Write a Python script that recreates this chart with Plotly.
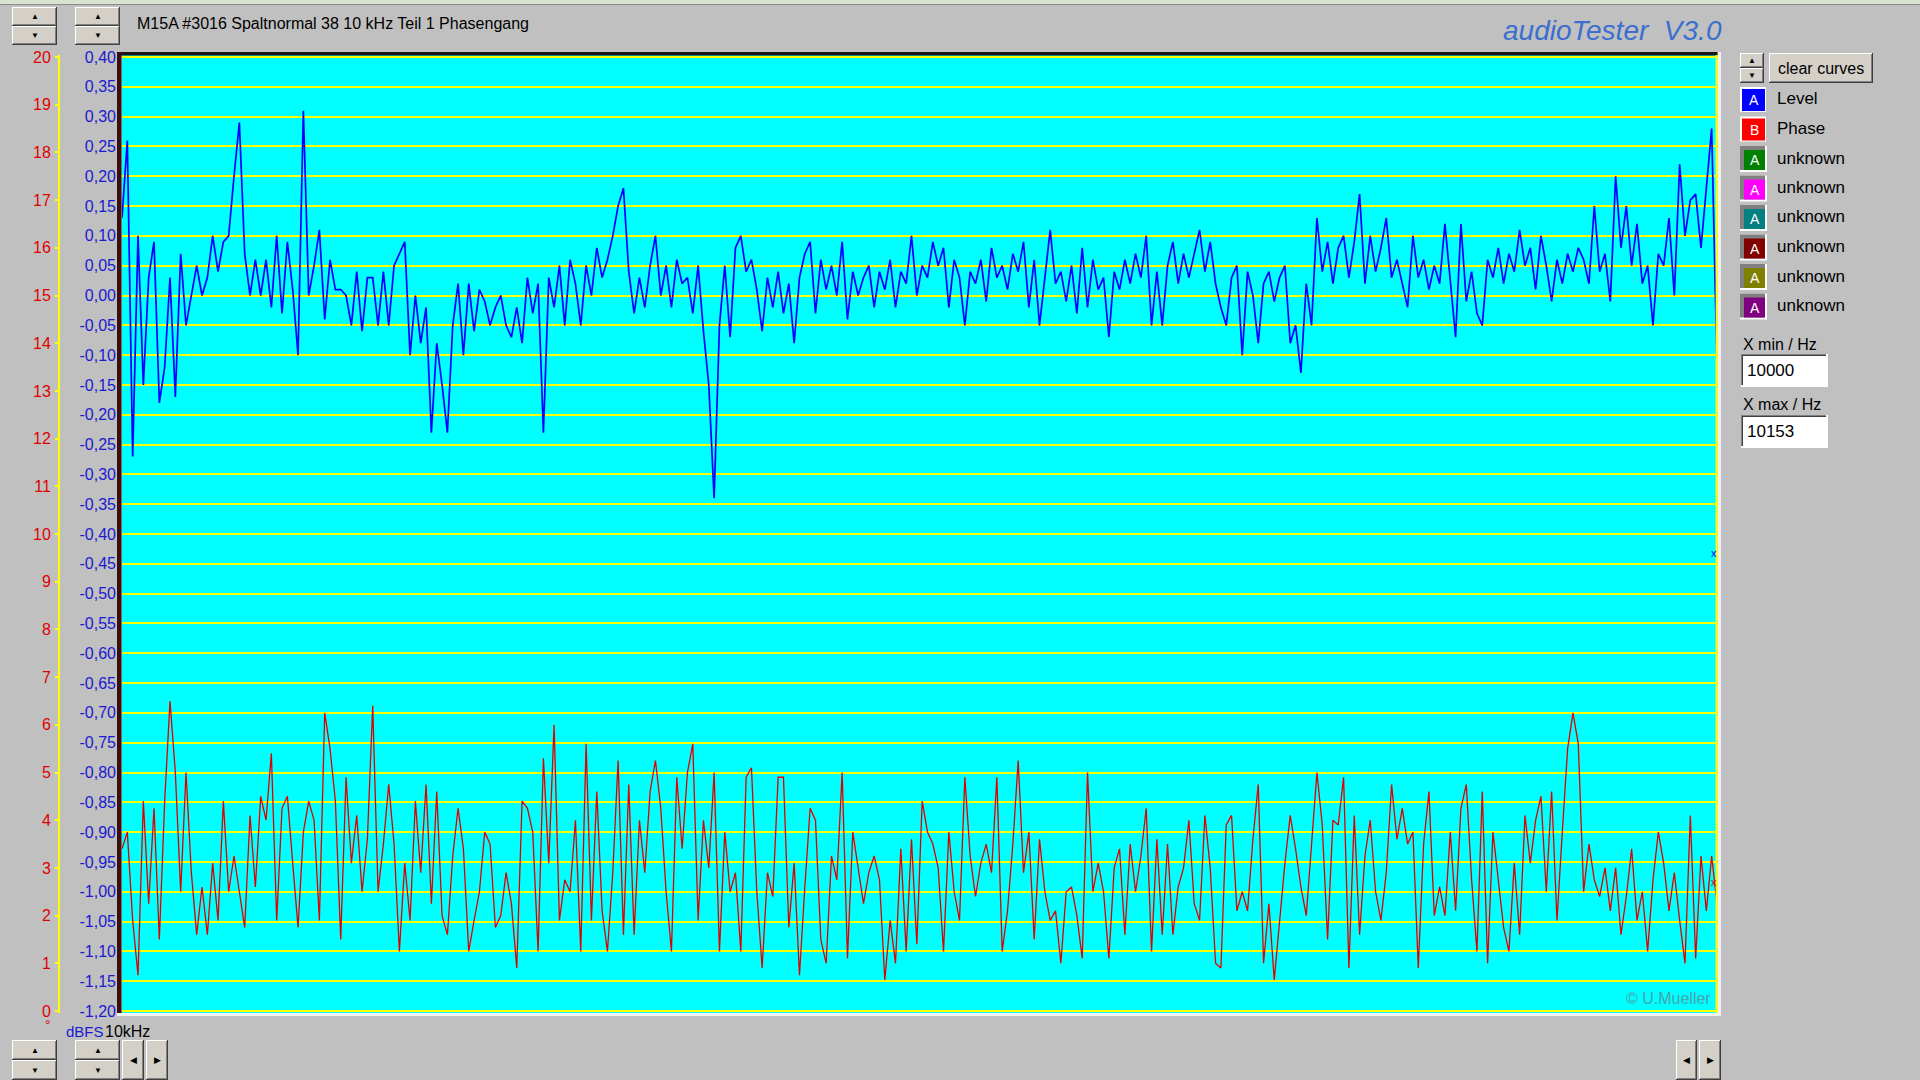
import plotly.graph_objects as go

# ---------------- data ----------------
TITLE = "M15A #3016 Spaltnormal 38 10 kHz Teil 1 Phasengang"
X_MIN_HZ = 10000
X_MAX_HZ = 10153
X_START_LABEL = "10kHz"

LEVEL_TICKS = ["0,40", "0,35", "0,30", "0,25", "0,20", "0,15", "0,10", "0,05", "0,00",
               "-0,05", "-0,10", "-0,15", "-0,20", "-0,25", "-0,30", "-0,35", "-0,40",
               "-0,45", "-0,50", "-0,55", "-0,60", "-0,65", "-0,70", "-0,75", "-0,80",
               "-0,85", "-0,90", "-0,95", "-1,00", "-1,05", "-1,10", "-1,15", "-1,20"]
PHASE_TICKS = ["0", "1", "2", "3", "4", "5", "6", "7", "8", "9", "10",
               "11", "12", "13", "14", "15", "16", "17", "18", "19", "20"]

LEGEND_LABELS = ["Level", "Phase", "unknown", "unknown", "unknown", "unknown", "unknown", "unknown"]
LEGEND_LETTERS = ["A", "B", "A", "A", "A", "A", "A", "A"]
LEGEND_COLORS = ["#0000ff", "#ff0000", "#008000", "#ff00ff", "#008080", "#800000", "#808000", "#800080"]

# Level (dBFS), left to right
LEVEL_DBFS = [
    0.13, 0.26, -0.27, 0.10, -0.15, 0.03, 0.09, -0.18, -0.12, 0.03, -0.17, 0.07, -0.05, 0.00, 0.05, 0.00, 0.03, 0.10, 0.04, 0.09,
    0.10, 0.20, 0.29, 0.07, 0.00, 0.06, 0.00, 0.06, -0.02, 0.10, -0.03, 0.09, 0.01, -0.10, 0.31, 0.00, 0.05, 0.11, -0.04, 0.06,
    0.01, 0.01, 0.00, -0.05, 0.04, -0.06, 0.03, 0.03, -0.05, 0.04, -0.05, 0.05, 0.07, 0.09, -0.10, 0.00, -0.08, -0.02, -0.23, -0.08,
    -0.15, -0.23, -0.05, 0.02, -0.10, 0.02, -0.06, 0.01, -0.01, -0.05, -0.02, 0.00, -0.05, -0.07, -0.02, -0.08, 0.03, -0.03, 0.02, -0.23,
    0.03, -0.02, 0.05, -0.05, 0.06, 0.02, -0.05, 0.05, 0.00, 0.08, 0.03, 0.06, 0.10, 0.15, 0.18, 0.04, -0.03, 0.03, -0.02, 0.05,
    0.10, 0.00, 0.05, -0.02, 0.06, 0.02, 0.03, -0.03, 0.05, -0.06, -0.15, -0.34, -0.05, 0.05, -0.07, 0.08, 0.10, 0.04, 0.06, 0.01,
    -0.06, 0.03, -0.02, 0.04, -0.03, 0.02, -0.08, 0.03, 0.07, 0.09, -0.03, 0.06, 0.01, 0.05, 0.00, 0.09, -0.04, 0.04, 0.00, 0.03,
    0.05, -0.02, 0.04, 0.01, 0.06, -0.02, 0.04, 0.02, 0.10, 0.00, 0.05, 0.03, 0.09, 0.05, 0.08, -0.02, 0.06, 0.03, -0.05, 0.04,
    0.02, 0.06, -0.01, 0.08, 0.03, 0.05, 0.01, 0.07, 0.04, 0.09, -0.02, 0.06, -0.05, 0.03, 0.11, 0.02, 0.04, -0.01, 0.05, -0.03,
    0.08, -0.02, 0.06, 0.01, 0.03, -0.07, 0.04, 0.01, 0.06, 0.02, 0.07, 0.03, 0.10, -0.05, 0.04, -0.05, 0.05, 0.09, 0.02, 0.07,
    0.03, 0.07, 0.11, 0.04, 0.09, 0.02, -0.02, -0.05, 0.03, 0.05, -0.10, 0.04, 0.00, -0.08, 0.02, 0.04, -0.01, 0.03, 0.05, -0.08,
    -0.05, -0.13, 0.02, -0.05, 0.13, 0.04, 0.09, 0.02, 0.08, 0.10, 0.03, 0.09, 0.17, 0.02, 0.10, 0.04, 0.08, 0.13, 0.03, 0.06,
    0.02, -0.02, 0.10, 0.03, 0.06, 0.01, 0.05, 0.02, 0.12, 0.03, -0.07, 0.12, -0.01, 0.04, -0.03, -0.05, 0.06, 0.03, 0.08, 0.02,
    0.07, 0.04, 0.11, 0.05, 0.08, 0.01, 0.10, 0.05, -0.01, 0.06, 0.02, 0.07, 0.04, 0.08, 0.06, 0.02, 0.15, 0.04, 0.07, -0.01,
    0.20, 0.08, 0.15, 0.05, 0.12, 0.02, 0.05, -0.05, 0.07, 0.05, 0.13, 0.00, 0.22, 0.10, 0.16, 0.17, 0.08, 0.18, 0.28, -0.12,
]

# Phase (degrees, red axis 0..20), left to right
PHASE_DEG = [
    3.4, 3.75, 1.9, 0.75, 4.4, 2.25, 4.25, 1.5, 4.4, 6.5, 5.0, 2.5, 5.0, 2.9, 1.6, 2.6, 1.6, 3.1, 1.9, 4.4,
    2.5, 3.25, 2.5, 1.75, 4.1, 2.6, 4.5, 4.0, 5.4, 1.9, 4.25, 4.5, 3.1, 1.75, 3.75, 4.4, 4.0, 1.9, 6.25, 5.5,
    4.4, 1.5, 4.9, 3.1, 4.1, 2.5, 3.6, 6.4, 2.5, 3.5, 4.75, 3.5, 1.25, 3.1, 1.9, 4.4, 2.9, 4.75, 2.25, 4.6,
    2.0, 1.6, 3.25, 4.25, 3.4, 1.25, 1.9, 2.5, 3.75, 3.5, 1.75, 2.0, 2.9, 2.25, 0.9, 4.4, 4.25, 3.75, 1.25, 5.3,
    3.1, 6.0, 1.9, 2.75, 2.5, 4.0, 1.25, 5.6, 1.9, 4.6, 2.1, 1.25, 2.9, 5.25, 1.6, 4.75, 1.6, 4.0, 2.9, 4.6,
    5.25, 4.25, 2.5, 1.25, 4.9, 3.4, 5.0, 5.6, 1.9, 4.0, 3.0, 5.0, 1.25, 3.75, 2.5, 2.9, 1.25, 4.9, 5.1, 2.5,
    0.9, 2.9, 2.4, 4.9, 4.9, 1.75, 3.1, 0.75, 2.6, 4.25, 4.0, 1.5, 1.0, 3.25, 2.75, 5.0, 1.1, 3.75, 3.0, 2.25,
    2.9, 3.25, 2.75, 0.65, 1.9, 1.0, 3.4, 1.25, 3.6, 1.4, 4.4, 3.75, 3.5, 3.0, 1.25, 3.75, 2.5, 1.9, 4.9, 3.25,
    2.4, 3.1, 3.5, 2.9, 4.9, 1.25, 2.1, 3.5, 5.25, 2.9, 3.75, 1.5, 3.6, 2.5, 1.9, 2.1, 1.0, 2.5, 2.6, 2.0,
    1.1, 5.0, 2.5, 3.1, 2.5, 1.1, 3.0, 3.4, 1.6, 3.5, 2.5, 3.25, 4.25, 1.25, 3.6, 1.6, 3.5, 1.6, 2.6, 3.0,
    4.0, 2.25, 1.9, 4.1, 3.0, 1.0, 0.9, 3.9, 4.1, 2.1, 2.5, 2.1, 3.6, 4.75, 1.0, 2.25, 0.65, 1.9, 3.1, 4.1,
    3.4, 2.6, 2.0, 3.5, 5.0, 3.9, 1.5, 4.0, 3.9, 4.9, 0.9, 4.1, 1.6, 3.25, 4.0, 2.5, 1.9, 2.9, 4.75, 3.6,
    4.25, 3.5, 3.75, 0.9, 3.5, 4.6, 2.0, 2.6, 2.0, 3.75, 2.1, 4.25, 4.75, 2.75, 1.25, 4.6, 1.0, 3.75, 2.75, 1.75,
    1.25, 3.1, 1.6, 4.1, 3.1, 4.0, 4.5, 2.5, 4.6, 1.9, 3.75, 5.5, 6.25, 5.6, 2.5, 3.5, 2.75, 2.4, 3.0, 2.1,
    3.0, 1.6, 2.4, 3.4, 1.9, 2.5, 1.25, 2.75, 3.75, 3.1, 2.1, 2.9, 1.9, 1.0, 4.1, 1.1, 3.25, 2.1, 3.25, 2.25,
]


def freq_grid(n):
    step = (X_MAX_HZ - X_MIN_HZ) / (n - 1)
    return [X_MIN_HZ + i * step for i in range(n)]


# ---------------- layout geometry (pixels) ----------------
W, H = 1920, 1080
PL, PR, PT, PB = 40, 1717, 55, 1013      # paper area
CYAN_L = 122                              # left edge of the cyan plot area
FONT = "Liberation Sans, Arial, sans-serif"


def PX(x):
    return (x - PL) / (PR - PL)


def PY(y):
    return (PB - y) / (PB - PT)


shapes = []
annotations = []


def rect(x0, y0, x1, y1, color):
    shapes.append(dict(type="rect", xref="paper", yref="paper",
                       x0=PX(x0), x1=PX(x1), y0=PY(y1), y1=PY(y0),
                       fillcolor=color, line=dict(width=0), layer="above"))


def text(x, y, s, size=16, color="black", anchor="left"):
    annotations.append(dict(xref="paper", yref="paper", x=PX(x), y=PY(y), text=s,
                            showarrow=False, xanchor=anchor, yanchor="middle",
                            font=dict(size=size, color=color, family=FONT)))


def button(x0, y0, x1, y1, glyph=None, gsize=9):
    rect(x0, y0, x1, y1, "#404040")
    rect(x0, y0, x1 - 1, y1 - 1, "#ffffff")
    rect(x0 + 1, y0 + 1, x1 - 1, y1 - 1, "#808080")
    rect(x0 + 1, y0 + 1, x1 - 2, y1 - 2, "#d4d0c8")
    if glyph:
        text((x0 + x1) / 2, (y0 + y1) / 2, glyph, size=gsize, anchor="center")


def spinner(x0, y0, x1, y1):
    ym = (y0 + y1) / 2
    button(x0, y0, x1, ym, "▲", 8)
    button(x0, ym, x1, y1, "▼", 8)


# top strip of the window
rect(0, 0, 1920, 4, "#d8e4d0")
rect(0, 4, 1920, 5, "#8a8a8a")

# plot frame
rect(117, 52, 1718, 55.5, "#1e1414")          # top dark
rect(117, 52, 121.5, 1013, "#3a0e0e")         # left dark
rect(1717.6, 52, 1721, 1016, "#f2f2f2")       # right light
rect(117, 1013, 1721, 1016, "#f2f2f2")        # bottom light
shapes.append(dict(type="line", xref="paper", yref="paper", x0=PX(1716.6), x1=PX(1716.6),
                   y0=PY(1013), y1=PY(55), line=dict(color="#ffff00", width=2), layer="above"))

# buttons
spinner(12, 7, 57, 45)
spinner(75, 7, 120, 45)
spinner(12, 1040, 57, 1080)
spinner(75, 1040, 120, 1080)
button(122, 1040, 144, 1080, "◀", 9)
button(146, 1040, 168, 1080, "▶", 9)
button(1676, 1040, 1697, 1080, "◀", 9)
button(1699, 1040, 1721, 1080, "▶", 9)
spinner(1740, 53, 1764, 83)
button(1769, 53, 1873, 83)
text(1821, 68, "clear curves", size=16, anchor="center")

# legend panel
for i, (lab, let, col) in enumerate(zip(LEGEND_LABELS, LEGEND_LETTERS, LEGEND_COLORS)):
    c = 99 + 29.5 * i
    if i < 2:
        rect(1740, c - 12, 1766, c + 13, "#ffffff")
        rect(1742, c - 10, 1765, c + 12, col)
    else:
        rect(1740, c - 12, 1767, c + 14, "#ffffff")
        rect(1740, c - 12, 1765, c + 12, "#808080")
        rect(1744, c - 8, 1765, c + 12, col)
    text(1754 if i < 2 else 1755, c + 1 if i < 2 else c + 2, let, size=14, color="white", anchor="center")
    text(1775, c, lab, size=17)

# X min / X max boxes
for lab, val, yl, yb in [("X min / Hz", str(X_MIN_HZ), 344, 354), ("X max / Hz", str(X_MAX_HZ), 404, 415)]:
    text(1741, yl, lab, size=16)
    rect(1741, yb, 1828, yb + 33, "#ffffff")
    rect(1741, yb, 1826, yb + 31, "#808080")
    rect(1742, yb + 1, 1826, yb + 31, "#404040")
    rect(1743, yb + 2, 1826, yb + 31, "#ffffff")
    text(1745, yb + 16, val, size=17)

# texts
text(135, 23, TITLE, size=16)
text(1724, 31, "<i>audioTester\u00a0\u00a0V3.0</i>", size=28, color="#3a6fcf", anchor="right")
text(1713, 998, "© U.Mueller", size=16, color="#4aa3ad", anchor="right")
text(64, 1031, "dBFS", size=15, color="#1a1ad0")
text(103, 1031, X_START_LABEL, size=16, color="black")
text(48, 1025, "°", size=14, color="#e00000", anchor="center")
text(1714, 553, "x", size=11, color="#0000ff", anchor="center")
text(1714, 882, "x", size=11, color="#e00000", anchor="center")

# ---------------- figure ----------------
fig = go.Figure()
fig.add_trace(go.Scatter(x=freq_grid(len(LEVEL_DBFS)), y=LEVEL_DBFS, mode="lines",
                         line=dict(color="#0000ff", width=1.7), yaxis="y",
                         name="Level", hoverinfo="skip"))
fig.add_trace(go.Scatter(x=freq_grid(len(PHASE_DEG)), y=PHASE_DEG, mode="lines",
                         line=dict(color="#e00000", width=1.3), yaxis="y2",
                         name="Phase", hoverinfo="skip"))

lvl_vals = [float(t.replace(",", ".")) for t in LEVEL_TICKS]
ph_vals = [float(t) for t in PHASE_TICKS]

fig.update_layout(
    template="none",
    width=W, height=H, autosize=False,
    margin=dict(l=PL, r=W - PR, t=PT, b=H - PB, pad=0),
    paper_bgcolor="#c0c0c0", plot_bgcolor="#00ffff",
    showlegend=False,
    font=dict(family=FONT, size=16, color="black"),
    xaxis=dict(domain=[PX(CYAN_L), 1], range=[X_MIN_HZ, X_MAX_HZ], showgrid=False,
               zeroline=False, showline=False, ticks="", showticklabels=False,
               automargin=False, fixedrange=True),
    yaxis=dict(range=[-1.20335, 0.40335], tickvals=lvl_vals, ticktext=LEVEL_TICKS,
               showgrid=True, gridcolor="#ffff00", gridwidth=2, zeroline=False,
               showline=False, ticks="", tickfont=dict(size=16, color="#1a1ad0", family=FONT),
               ticklabelstandoff=5, automargin=False, anchor="x", fixedrange=True),
    yaxis2=dict(range=[-0.0419, 20.0419], tickvals=ph_vals, ticktext=PHASE_TICKS,
                overlaying="y", anchor="free", position=PX(59), side="left",
                showgrid=False, zeroline=False, showline=True, linecolor="#ffff00", linewidth=2,
                ticks="outside", ticklen=3, tickwidth=2, tickcolor="#ffff00",
                tickfont=dict(size=16, color="#e00000", family=FONT), ticklabelstandoff=1,
                automargin=False, fixedrange=True),
    shapes=shapes,
    annotations=annotations,
)

fig.write_html("out.html", config={"displayModeBar": False},
               post_script="document.body.style.margin='0';document.body.style.overflow='hidden';")
